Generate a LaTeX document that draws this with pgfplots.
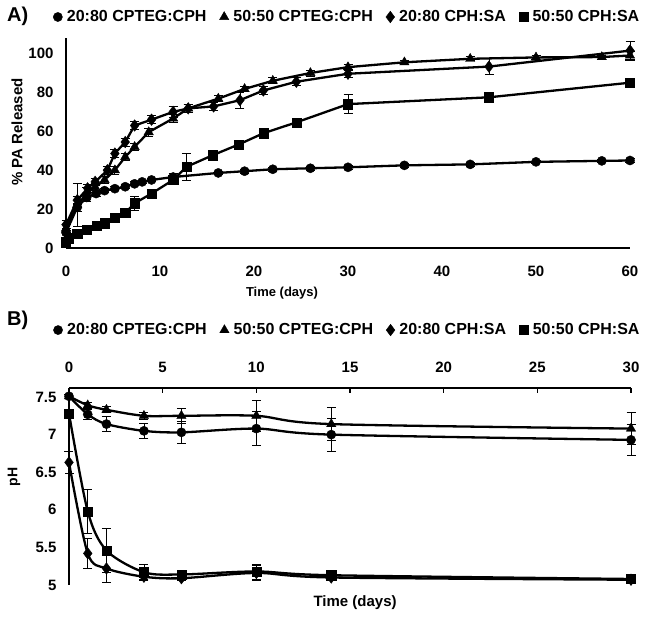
\documentclass[border=0pt]{standalone}
\usepackage{fontspec}
\setmainfont{Liberation Sans}
\usepackage{pgfplots}
\pgfplotsset{compat=1.18}
\pgfplotsset{
 base/.style={
  scale only axis, clip=false,
  axis line style={line width=1.2pt,-},
  tick label style={font=\fontsize{15}{18}\selectfont\bfseries},
  /pgf/number format/assume math mode=true,
  label style={font=\fontsize{13}{16}\selectfont\bfseries},
  legend columns=4,
  legend cell align=left,
  legend style={draw=none, fill=none, inner sep=0pt, font=\fontsize{16}{19}\selectfont\bfseries,
    /tikz/every even column/.append style={column sep=11pt},
    /tikz/every odd column/.append style={column sep=2.5pt}},
  legend image code/.code={\draw[##1, only marks] plot coordinates {(0pt,0pt)};},
  error bars/y dir=both, error bars/y explicit,
  error bars/error bar style={line width=0.8pt, black},
  error bars/error mark options={rotate=90, mark size=4.5pt, line width=0.8pt, black},
 },
 ser/.style={black, line width=2.3pt, mark options={solid, fill=black, draw=black, line width=0.4pt}},
}
\begin{document}
\begin{tikzpicture}
\useasboundingbox (0pt,0pt) rectangle (645pt,620pt);
\node[font=\fontsize{20}{24}\selectfont\bfseries, anchor=west, inner sep=0pt] at (7pt,604pt) {A)};
\node[font=\fontsize{20}{24}\selectfont\bfseries, anchor=west, inner sep=0pt] at (7pt,300pt) {B)};

\begin{axis}[base, at={(66pt,372pt)}, anchor=south west, width=564pt, height=210pt,
 xmin=0, xmax=60, ymin=0, ymax=108,
 axis x line*=bottom, axis y line*=left,
 xtick={0,10,...,60}, ytick={0,20,...,100}, major tick length=0pt,
 xticklabel style={yshift=-15pt}, yticklabel style={xshift=-9pt},
 xlabel={Time (days)}, ylabel={\% PA Released},
 xlabel style={at={(axis description cs:0.383,-0.214)}, anchor=center},
 ylabel style={at={(axis description cs:-0.087,0.552)}, anchor=center, font=\fontsize{15}{18}\selectfont\bfseries},
 legend style={at={(axis description cs:-0.023,1.1)}, anchor=west}]
\addplot[ser, mark=*, mark size=4.6pt] table[x=x, y=y, y error=e] {
x y e
0 8 1
1.2 21 2
2.2 26 2
3.2 28 1.5
4.1 29.5 1
5.2 30.5 1
6.3 31.5 1
7.3 33 1
8.1 34 1
9.1 35 1
11.4 36.5 2
16.2 38.6 1
19 39.5 1
22 40.5 1
26 41 1
30 41.5 1
36 42.5 1
43 43 1
50 44.3 1
57 44.8 1
60 45 1
};
\addlegendentry{20:80 CPTEG:CPH}
\addplot[ser, mark=triangle*, mark size=5.4pt] table[x=x, y=y, y error=e] {
x y e
0 10 2
1.2 22 11
2.2 28 3
3.1 31.4 2
4.1 35 2
5.2 40 2
6.3 46.8 2
7.3 52 2
8.8 59.6 2
11.4 66.6 2
13 71.8 2
16.2 76.8 1.5
19 81.8 1.5
22 86 1.5
26 90 1.5
30 93 1.5
36 95.5 1
43 97.3 1
50 98 1
57 98.2 1
60 99 2
};
\addlegendentry{50:50 CPTEG:CPH}
\addplot[ser, mark=diamond*, mark size=5.8pt] table[x=x, y=y, y error=e] {
x y e
0 12 2
1.2 24.6 2
2.3 30.7 2
3.1 34 2
4.4 40 2
5.2 48.6 2
6.3 54.5 2
7.3 63 2
9.1 66 2
11.4 70 3
13 71.8 2
15.7 72.8 2
18.5 76 4
21 81 2
24.5 85.5 2
30 89.6 2
45 93.3 4
60 101.5 5
};
\addlegendentry{20:80 CPH:SA}
\addplot[ser, mark=square*, mark size=4.6pt] table[x=x, y=y, y error=e] {
x y e
0 3 1
0.25 5 1
1.2 7.5 1
2.2 9.5 1
3.3 11.3 1
4.1 12.8 1
5.2 15.4 1
6.3 18 1
7.3 23 3.5
9.1 28 2
11.4 35 2
12.8 41.7 7
15.6 47.7 1
18.4 53.3 1
21 59 1.5
24.5 64.6 1
30 74 5
45 77.5 1
60 85 2
};
\addlegendentry{50:50 CPH:SA}
\end{axis}

\begin{axis}[base, at={(69pt,35pt)}, anchor=south west, width=562pt, height=197pt,
 xmin=0, xmax=30, ymin=5, ymax=7.62,
 axis x line*=top, axis y line*=left,
 xtick={0,5,...,30}, ytick={5,5.5,...,7.5},
 tick align=inside, major tick length=5pt,
 xtick style={line width=1.2pt, black}, ytick style={draw=none},
 xticklabel style={yshift=12pt}, yticklabel style={xshift=-9pt},
 yticklabel={\pgfmathprintnumber[fixed]{\tick}},
 xlabel={Time (days)}, ylabel={pH},
 xlabel style={at={(axis description cs:0.509,-0.091)}, anchor=center, font=\fontsize{15}{18}\selectfont\bfseries},
 ylabel style={at={(axis description cs:-0.098,0.548)}, anchor=center, font=\fontsize{14}{17}\selectfont\bfseries},
 legend style={at={(axis description cs:-0.028,1.294)}, anchor=west}]
\addplot[ser, smooth, mark=*, mark size=4.6pt] table[x=x, y=y, y error=e] {
x y e
0 7.51 0.03
1 7.27 0.07
2 7.14 0.1
4 7.05 0.1
6 7.03 0.15
10 7.08 0.23
14 7.0 0.22
30 6.93 0.2
};
\addlegendentry{20:80 CPTEG:CPH}
\addplot[ser, smooth, mark=triangle*, mark size=5.4pt] table[x=x, y=y, y error=e] {
x y e
0 7.51 0.03
1 7.39 0.04
2 7.33 0.04
4 7.25 0.05
6 7.25 0.1
10 7.25 0.21
14 7.14 0.22
30 7.08 0.21
};
\addlegendentry{50:50 CPTEG:CPH}
\addplot[ser, smooth, mark=diamond*, mark size=5.8pt] table[x=x, y=y, y error=e] {
x y e
0 6.63 0.15
1 5.42 0.2
2 5.22 0.18
4 5.11 0.05
6 5.09 0.03
10 5.16 0.1
14 5.1 0.03
30 5.07 0.03
};
\addlegendentry{20:80 CPH:SA}
\addplot[ser, smooth, mark=square*, mark size=4.6pt] table[x=x, y=y, y error=e] {
x y e
0 7.28 0.05
1 5.98 0.29
2 5.46 0.29
4 5.17 0.1
6 5.14 0.03
10 5.18 0.1
14 5.13 0.05
30 5.08 0.05
};
\addlegendentry{50:50 CPH:SA}
\end{axis}
\end{tikzpicture}
\end{document}
